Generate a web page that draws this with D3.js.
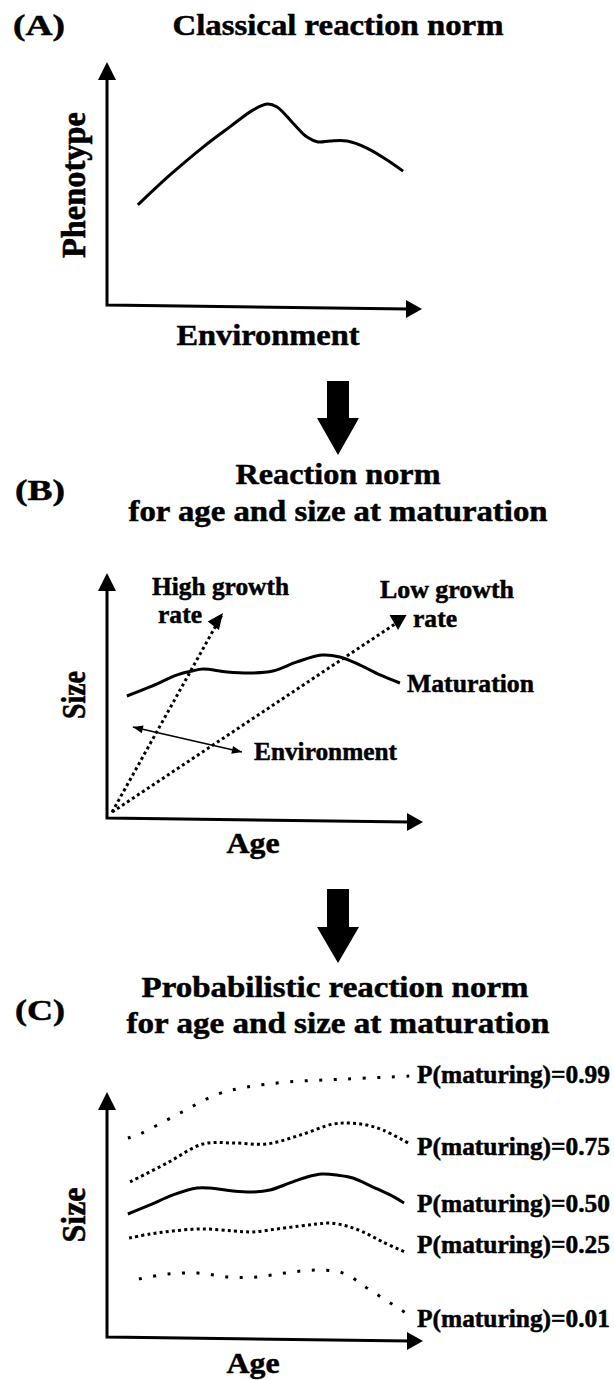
<!DOCTYPE html>
<html>
<head>
<meta charset="utf-8">
<script src="https://cdnjs.cloudflare.com/ajax/libs/d3/7.8.5/d3.min.js"></script>
<style>
body { margin: 0; background: #fff; }
</style>
</head>
<body>
<div id="chart"></div>
<script>
// ---- data (axis units 0..10, 10 = arrow tip) ----
var panelLabels = ["(A)", "(B)", "(C)"];
var panelTitles = ["Classical reaction norm", "Reaction norm", "for age and size at maturation",
                   "Probabilistic reaction norm", "for age and size at maturation"];

// (A) classical reaction norm
var classicalEnv   = [0.98, 2.00, 3.05, 3.90, 4.63, 5.08, 5.40, 5.90, 6.35, 6.70, 7.08, 7.62, 8.25, 8.89, 9.40];
var classicalPheno = [4.12, 5.35, 6.50, 7.33, 8.02, 8.27, 8.15, 7.49, 6.91, 6.71, 6.75, 6.75, 6.46, 5.97, 5.51];

// (B) maturation reaction norm
var maturationAge  = [0.63, 1.36, 2.22, 2.69, 3.04, 3.80, 4.62, 5.25, 6.01, 6.80, 7.37, 8.01, 8.64, 9.27];
var maturationSize = [4.98, 5.35, 5.84, 6.00, 6.08, 5.96, 5.92, 6.00, 6.37, 6.65, 6.57, 6.24, 5.84, 5.51];
var highGrowthAge  = [0.16, 3.67];
var highGrowthSize = [0.24, 8.37];
var lowGrowthAge   = [0.16, 9.21];
var lowGrowthSize  = [0.24, 8.00];
var envArrowAge    = [0.82, 4.27];
var envArrowSize   = [3.71, 2.69];

// (C) probabilistic reaction norm
var probLabels = ["P(maturing)=0.99", "P(maturing)=0.75", "P(maturing)=0.50", "P(maturing)=0.25", "P(maturing)=0.01"];
var p99Age  = [0.66, 1.04, 2.31, 3.51, 4.43, 5.73, 7.59, 9.59];
var p99Size = [8.12, 8.29, 9.14, 9.92, 10.20, 10.41, 10.53, 10.65];
var p75Age  = [0.73, 1.90, 3.04, 3.99, 5.06, 6.11, 7.15, 7.69, 8.23, 8.73, 9.53];
var p75Size = [6.33, 7.10, 7.88, 7.92, 7.88, 8.24, 8.69, 8.73, 8.65, 8.45, 7.92];
var p50Age  = [0.66, 1.36, 2.09, 2.85, 3.26, 3.99, 4.62, 5.16, 5.79, 6.33, 6.80, 7.28, 7.78, 8.42, 8.96, 9.40];
var p50Size = [5.02, 5.39, 5.80, 6.08, 6.08, 5.96, 5.92, 6.00, 6.29, 6.53, 6.65, 6.61, 6.49, 6.12, 5.80, 5.47];
var p25Age  = [0.70, 1.36, 2.09, 3.04, 3.99, 4.62, 5.38, 6.11, 6.65, 7.06, 7.59, 8.10, 8.73, 9.49];
var p25Size = [4.04, 4.20, 4.33, 4.41, 4.33, 4.29, 4.41, 4.53, 4.61, 4.65, 4.53, 4.29, 3.88, 3.43];
var p01Age  = [1.01, 1.93, 2.88, 3.83, 4.75, 5.63, 6.58, 7.47, 8.32, 9.46];
var p01Size = [2.37, 2.57, 2.61, 2.45, 2.45, 2.61, 2.73, 2.61, 1.92, 0.98];

// ---- layout ----
var W = 614, H = 1380;
var font = "'Liberation Serif', 'Times New Roman', serif";
var svg = d3.select("#chart").append("svg").attr("width", W).attr("height", H);

var xA = d3.scaleLinear().domain([0, 10]).range([107, 422]);
var yA = d3.scaleLinear().domain([0, 10]).range([305, 62]);
var xB = d3.scaleLinear().domain([0, 10]).range([107, 423]);
var yB = d3.scaleLinear().domain([0, 10]).range([818, 573]);
var xC = d3.scaleLinear().domain([0, 10]).range([107, 423]);
var yC = d3.scaleLinear().domain([0, 10]).range([1337, 1092]);

function label(txt, x, y, w, size, anchor) {
    return svg.append("text")
        .text(txt)
        .attr("x", x)
        .attr("y", y)
        .attr("font-family", font)
        .attr("font-weight", "bold")
        .attr("font-size", size)
        .attr("fill", "#000")
        .attr("stroke", "#000")
        .attr("stroke-width", 0.5)
        .attr("text-anchor", anchor || "start")
        .attr("textLength", w)
        .attr("lengthAdjust", "spacingAndGlyphs");
}

function vlabel(txt, x, y, len, size) {
    return svg.append("text")
        .text(txt)
        .attr("transform", "translate(" + x + "," + y + ") rotate(-90) scale(1,1.15)")
        .attr("font-family", font)
        .attr("font-weight", "bold")
        .attr("font-size", size)
        .attr("fill", "#000")
        .attr("stroke", "#000")
        .attr("stroke-width", 0.5)
        .attr("text-anchor", "middle")
        .attr("textLength", len)
        .attr("lengthAdjust", "spacingAndGlyphs");
}

// axes with arrow heads; x axis drops slightly to the right like the original
function axes(x, y) {
    var x0 = x(0), y0 = y(0), xt = x(10), yt = y(10), drop = 4;
    svg.append("path")
        .attr("d", "M" + x0 + "," + (yt + 14) + "L" + x0 + "," + y0 + "L" + (xt - 14) + "," + (y0 + drop))
        .attr("fill", "none")
        .attr("stroke", "#000")
        .attr("stroke-width", 3);
    svg.append("path")
        .attr("d", "M" + x0 + "," + yt + "L" + (x0 - 9) + "," + (yt + 18) + "L" + (x0 + 9) + "," + (yt + 18) + "Z")
        .attr("fill", "#000");
    svg.append("path")
        .attr("d", "M" + xt + "," + (y0 + drop) + "L" + (xt - 16) + "," + (y0 + drop - 9) + "L" + (xt - 16) + "," + (y0 + drop + 9) + "Z")
        .attr("fill", "#000");
}

function curve(x, y, xs, ys, dash, width) {
    var line = d3.line()
        .x(function(d) { return x(d[0]); })
        .y(function(d) { return y(d[1]); })
        .curve(d3.curveCatmullRom.alpha(0.5));
    var p = svg.append("path")
        .datum(d3.zip(xs, ys))
        .attr("d", line)
        .attr("fill", "none")
        .attr("stroke", "#000")
        .attr("stroke-width", width || 3);
    if (dash) p.attr("stroke-dasharray", dash);
    return p;
}

function head(x1, y1, x2, y2, len, hw) {
    var a = Math.atan2(y2 - y1, x2 - x1);
    var bx = x2 - len * Math.cos(a), by = y2 - len * Math.sin(a);
    var px = -Math.sin(a) * hw, py = Math.cos(a) * hw;
    svg.append("path")
        .attr("d", "M" + x2 + "," + y2 + "L" + (bx + px) + "," + (by + py) + "L" + (bx - px) + "," + (by - py) + "Z")
        .attr("fill", "#000");
}

function bigArrow(cx, top, neck, tip) {
    svg.append("path")
        .attr("d", "M" + (cx - 11) + "," + top + "L" + (cx + 11) + "," + top + "L" + (cx + 11) + "," + neck +
                   "L" + (cx + 21) + "," + neck + "L" + cx + "," + tip + "L" + (cx - 21) + "," + neck +
                   "L" + (cx - 11) + "," + neck + "Z")
        .attr("fill", "#000");
}

// ---- (A) ----
label(panelLabels[0], 13, 35, 52, 30);
label(panelTitles[0], 338, 35, 331, 30, "middle");
axes(xA, yA);
curve(xA, yA, classicalEnv, classicalPheno, null, 3);
label("Environment", 268, 345, 183, 30, "middle");
vlabel("Phenotype", 85, 185, 146, 29);

bigArrow(338, 381, 418, 455);

// ---- (B) ----
label(panelLabels[1], 15, 500, 50, 30);
label(panelTitles[1], 338, 484, 205, 30, "middle");
label(panelTitles[2], 338, 521, 419, 30, "middle");
axes(xB, yB);
curve(xB, yB, maturationAge, maturationSize, null, 3);

curve(xB, yB, highGrowthAge, highGrowthSize, "3,3", 3);
head(xB(highGrowthAge[0]) - 40, yB(highGrowthSize[0]), xB(highGrowthAge[1]), yB(highGrowthSize[1]), 16, 7);

curve(xB, yB, lowGrowthAge, lowGrowthSize, "3,3", 3);
var lx = xB(lowGrowthAge[1]), ly = yB(lowGrowthSize[1]);
svg.append("path")
    .attr("d", "M" + (lx - 8.5) + "," + (ly - 7) + "L" + (lx + 8.5) + "," + (ly - 7) + "L" + lx + "," + (ly + 8) + "Z")
    .attr("fill", "#000");

svg.append("line")
    .attr("x1", xB(envArrowAge[0])).attr("y1", yB(envArrowSize[0]))
    .attr("x2", xB(envArrowAge[1])).attr("y2", yB(envArrowSize[1]))
    .attr("stroke", "#000").attr("stroke-width", 1.5);
head(xB(envArrowAge[1]), yB(envArrowSize[1]), xB(envArrowAge[0]), yB(envArrowSize[0]), 10, 4);
head(xB(envArrowAge[0]), yB(envArrowSize[0]), xB(envArrowAge[1]), yB(envArrowSize[1]), 10, 4);

label("High growth", 152, 595, 137, 26);
label("rate", 158, 623, 44, 26);
label("Low growth", 380, 598, 134, 26);
label("rate", 413, 627, 44, 26);
label("Maturation", 407, 692, 127, 26);
label("Environment", 254, 760, 143, 26);
label("Age", 253, 853, 53, 30, "middle");
vlabel("Size", 85, 695, 48, 29);

bigArrow(338, 889, 927, 963);

// ---- (C) ----
label(panelLabels[2], 15, 1020, 50, 30);
label(panelTitles[3], 335, 997, 387, 30, "middle");
label(panelTitles[4], 338, 1033, 423, 30, "middle");
axes(xC, yC);

var series = [
    {age: p99Age, size: p99Size, dash: "3,11.5", dy: 7},
    {age: p75Age, size: p75Size, dash: "3,3.2", dy: 12},
    {age: p50Age, size: p50Size, dash: null, dy: 9},
    {age: p25Age, size: p25Size, dash: "3,3.2", dy: 0},
    {age: p01Age, size: p01Size, dash: "3,11.5", dy: 14}
];
series.forEach(function(s, i) {
    curve(xC, yC, s.age, s.size, s.dash, 3);
    label(probLabels[i], 417, yC(s.size[s.size.length - 1]) + s.dy, 193, 26);
});

label("Age", 253, 1373, 53, 30, "middle");
vlabel("Size", 85, 1215, 55, 29);
</script>
</body>
</html>
